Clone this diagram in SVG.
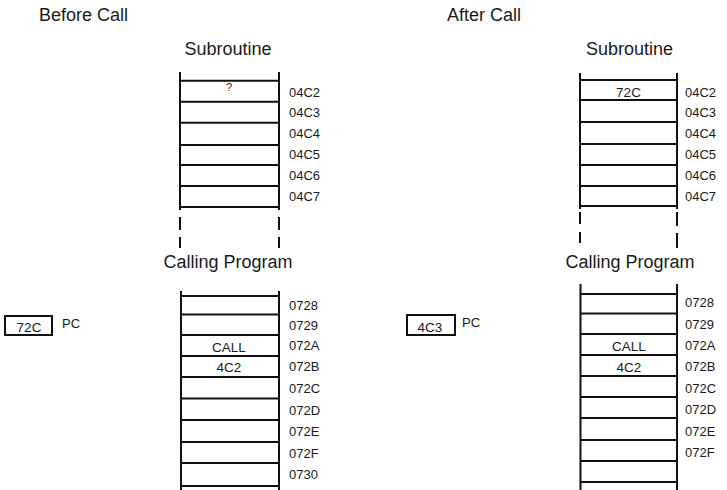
<svg xmlns="http://www.w3.org/2000/svg" width="727" height="490" viewBox="0 0 727 490">
<style>
text{font-family:"Liberation Sans",Arial,sans-serif;fill:#1a1a1a}
.h{font-size:18px}
.s{font-size:13px}
.c{font-size:13.5px;text-anchor:middle}
.m{text-anchor:middle}
.r{stroke:#111;stroke-width:2;fill:none}
.l{stroke:#111;stroke-width:2;fill:none}
.b{stroke:#111;stroke-width:2;fill:#fff}
</style>
<rect width="727" height="490" fill="#fff"/>

<g id="before">
<text class="h" x="39" y="21">Before Call</text>

<g id="sub-before">
<text class="h m" x="228" y="55">Subroutine</text>
<path class="r" d="M180,72V210M279,72V210M180,217V230M180,237V248M279,217V230M279,237V248"/>
<path class="l" d="M180,80.7H279M180,101.7H279M180,122.7H279M180,145H279M180,165H279M180,186H279M180,207H279"/>
<text class="c" x="229" y="91" style="font-size:11px">?</text>
<g class="s">
<text x="289" y="97">04C2</text>
<text x="289" y="117">04C3</text>
<text x="289" y="137.5">04C4</text>
<text x="289" y="159">04C5</text>
<text x="289" y="180">04C6</text>
<text x="289" y="201">04C7</text>
</g>
</g>

<g id="call-before">
<text class="h m" x="228" y="268">Calling Program</text>
<path class="r" d="M181,291V490M279,291V490"/>
<path class="l" d="M181,296H279M181,314.5H279M181,335H279M181,356H279M181,377H279M181,398.5H279M181,420H279M181,442H279M181,463H279M181,486H279"/>
<text class="c" x="229" y="352">CALL</text>
<text class="c" x="229" y="372">4C2</text>
<g class="s">
<text x="289" y="310">0728</text>
<text x="289" y="330">0729</text>
<text x="289" y="350">072A</text>
<text x="289" y="371">072B</text>
<text x="289" y="393">072C</text>
<text x="289" y="415">072D</text>
<text x="289" y="436">072E</text>
<text x="289" y="458">072F</text>
<text x="289" y="479">0730</text>
</g>
</g>

<g id="pc-before">
<rect class="b" x="5" y="316" width="47" height="19"/>
<text class="c" x="29" y="332">72C</text>
<text class="s" x="62" y="328">PC</text>
</g>
</g>

<g id="after">
<text class="h" x="447" y="21">After Call</text>

<g id="sub-after">
<text class="h m" x="629.5" y="55">Subroutine</text>
<path class="r" d="M580,73V209M677,73V209M580,212V224M580,232V243M677,212V226M677,233V248"/>
<path class="l" d="M580,80H677M580,100H677M580,122H677M580,144H677M580,165H677M580,186H677M580,206H677"/>
<text class="c" x="628.5" y="97">72C</text>
<g class="s">
<text x="685" y="97">04C2</text>
<text x="685" y="117">04C3</text>
<text x="685" y="137.5">04C4</text>
<text x="685" y="159">04C5</text>
<text x="685" y="180">04C6</text>
<text x="685" y="201">04C7</text>
</g>
</g>

<g id="call-after">
<text class="h m" x="630" y="268">Calling Program</text>
<path class="r" d="M580.5,284V490M677,284V490"/>
<path class="l" d="M580.5,294H677M580.5,313.5H677M580.5,334H677M580.5,355H677M580.5,376H677M580.5,397H677M580.5,418H677M580.5,440H677M580.5,461H677M580.5,482H677"/>
<text class="c" x="629" y="351">CALL</text>
<text class="c" x="629" y="372">4C2</text>
<g class="s">
<text x="685" y="306.5">0728</text>
<text x="685" y="329">0729</text>
<text x="685" y="350">072A</text>
<text x="685" y="371">072B</text>
<text x="685" y="393">072C</text>
<text x="685" y="414">072D</text>
<text x="685" y="436">072E</text>
<text x="685" y="457">072F</text>
</g>
</g>

<g id="pc-after">
<rect class="b" x="407" y="315" width="48" height="20"/>
<text class="c" x="430" y="332">4C3</text>
<text class="s" x="462" y="327">PC</text>
</g>
</g>

<g id="connectors"></g>
</svg>
